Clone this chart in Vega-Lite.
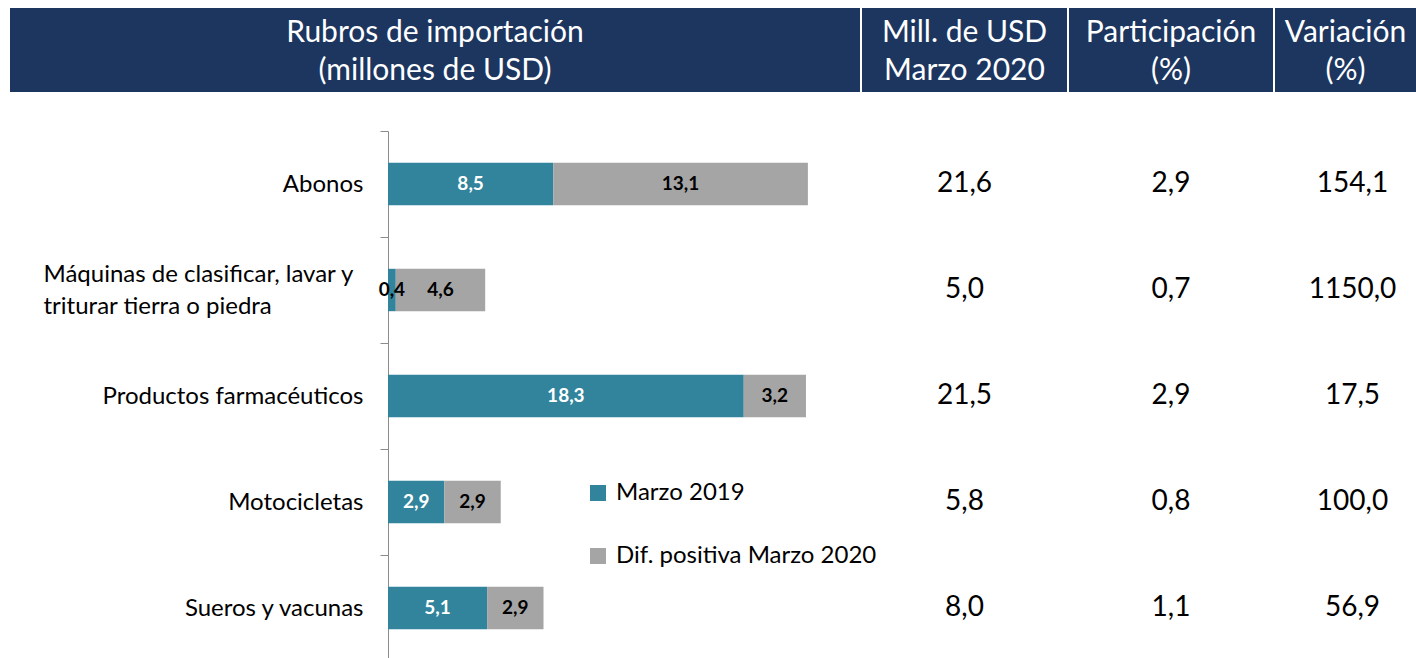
{
  "$schema": "https://vega.github.io/schema/vega-lite/v6.json",
  "padding": {"left": 10, "top": 8, "right": 0, "bottom": 0},
  "background": "white",
  "config": {
    "font": "Lato",
    "view": {"stroke": null},
    "concat": {"spacing": 2}
  },
  "datasets": {
    "segmentos": [
      {"rubro": "Abonos", "serie": "Marzo 2019", "valor": 8.5},
      {"rubro": "Abonos", "serie": "Dif. positiva Marzo 2020", "valor": 13.1},
      {"rubro": "Máquinas de clasificar, lavar y triturar tierra o piedra", "serie": "Marzo 2019", "valor": 0.4},
      {"rubro": "Máquinas de clasificar, lavar y triturar tierra o piedra", "serie": "Dif. positiva Marzo 2020", "valor": 4.6},
      {"rubro": "Productos farmacéuticos", "serie": "Marzo 2019", "valor": 18.3},
      {"rubro": "Productos farmacéuticos", "serie": "Dif. positiva Marzo 2020", "valor": 3.2},
      {"rubro": "Motocicletas", "serie": "Marzo 2019", "valor": 2.9},
      {"rubro": "Motocicletas", "serie": "Dif. positiva Marzo 2020", "valor": 2.9},
      {"rubro": "Sueros y vacunas", "serie": "Marzo 2019", "valor": 5.1},
      {"rubro": "Sueros y vacunas", "serie": "Dif. positiva Marzo 2020", "valor": 2.9}
    ],
    "tabla": [
      {"rubro": "Abonos", "mill": 21.6, "part": 2.9, "var": 154.1},
      {"rubro": "Máquinas de clasificar, lavar y triturar tierra o piedra", "mill": 5.0, "part": 0.7, "var": 1150.0},
      {"rubro": "Productos farmacéuticos", "mill": 21.5, "part": 2.9, "var": 17.5},
      {"rubro": "Motocicletas", "mill": 5.8, "part": 0.8, "var": 100.0},
      {"rubro": "Sueros y vacunas", "mill": 8.0, "part": 1.1, "var": 56.9}
    ],
    "encabezados": [
      {"col": 1, "t": "Rubros de importación\n(millones de USD)"},
      {"col": 2, "t": "Mill. de USD\nMarzo 2020"},
      {"col": 3, "t": "Participación\n(%)"},
      {"col": 4, "t": "Variación\n(%)"}
    ]
  },
  "vconcat": [
    {
      "hconcat": [
        {
          "width": 850, "height": 84,
          "view": {"fill": "#1c3660", "stroke": null},
          "data": {"name": "encabezados"},
          "transform": [{"filter": "datum.col == 1"}],
          "mark": {"type": "text", "color": "white", "fontSize": 30, "lineBreak": "\n", "lineHeight": 38, "baseline": "middle", "dy": -17},
          "encoding": {"text": {"field": "t"}}
        },
        {
          "width": 205, "height": 84,
          "view": {"fill": "#1c3660", "stroke": null},
          "data": {"name": "encabezados"},
          "transform": [{"filter": "datum.col == 2"}],
          "mark": {"type": "text", "color": "white", "fontSize": 30, "lineBreak": "\n", "lineHeight": 38, "baseline": "middle", "dy": -17},
          "encoding": {"text": {"field": "t"}}
        },
        {
          "width": 204, "height": 84,
          "view": {"fill": "#1c3660", "stroke": null},
          "data": {"name": "encabezados"},
          "transform": [{"filter": "datum.col == 3"}],
          "mark": {"type": "text", "color": "white", "fontSize": 30, "lineBreak": "\n", "lineHeight": 38, "baseline": "middle", "dy": -17},
          "encoding": {"text": {"field": "t"}}
        },
        {
          "width": 141, "height": 84,
          "view": {"fill": "#1c3660", "stroke": null},
          "data": {"name": "encabezados"},
          "transform": [{"filter": "datum.col == 4"}],
          "mark": {"type": "text", "color": "white", "fontSize": 30, "lineBreak": "\n", "lineHeight": 38, "baseline": "middle", "dy": -17},
          "encoding": {"text": {"field": "t"}}
        }
      ]
    },
    {
      "bounds": "flush",
      "hconcat": [
        {
          "width": 850, "height": 530,
          "data": {"name": "segmentos"},
          "transform": [
            {"stack": "valor", "groupby": ["rubro"], "sort": [{"field": "serie", "order": "descending"}], "as": ["v0", "v1"]},
            {"calculate": "(datum.v0 + datum.v1) / 2", "as": "vmid"},
            {"calculate": "replace(format(datum.valor, '.1f'), '.', ',')", "as": "etiqueta"}
          ],
          "encoding": {
            "y": {
              "field": "rubro", "type": "nominal", "sort": null,
              "scale": {"type": "band", "paddingInner": 0.6, "paddingOuter": 0.3},
              "axis": {
                "title": null, "offset": -378, "domainColor": "#8c8c8c", "tickColor": "#8c8c8c", "tickSize": 8,
                "tickOffset": -53,
                "labelOffset": {"condition": {"test": "indexof(datum.label, 'lavar y') > 0", "value": 37}, "value": 53},
                "labelAlign": {"condition": {"test": "indexof(datum.label, 'lavar y') > 0", "value": "left"}, "value": "right"},
                "labelPadding": {"condition": {"test": "indexof(datum.label, 'lavar y') > 0", "value": 337}, "value": 17},
                "labelFontSize": 24, "labelColor": "#000",
                "labelLimit": 400, "labelLineHeight": 32,
                "labelExpr": "indexof(datum.label, 'lavar y') > 0 ? ['Máquinas de clasificar, lavar y', 'triturar tierra o piedra'] : datum.label"
              }
            }
          },
          "layer": [
            {
              "mark": {"type": "bar"},
              "encoding": {
                "x": {"field": "v0", "type": "quantitative", "scale": {"domain": [-19.444, 24.28], "nice": false, "zero": false}, "axis": null},
                "x2": {"field": "v1"},
                "color": {
                  "field": "serie", "type": "nominal",
                  "scale": {"domain": ["Marzo 2019", "Dif. positiva Marzo 2020"], "range": ["#31849b", "#a5a5a5"]},
                  "legend": {
                    "title": null, "orient": "none", "legendX": 576, "legendY": 473,
                    "symbolType": "square", "symbolSize": 256, "symbolStrokeWidth": 0,
                    "labelFontSize": 24, "labelColor": "#000", "rowPadding": 39, "labelOffset": 6, "labelLimit": 400
                  }
                }
              }
            },
            {
              "mark": {"type": "text", "fontSize": 19, "fontWeight": "bold", "baseline": "middle"},
              "encoding": {
                "x": {"field": "vmid", "type": "quantitative"},
                "text": {"field": "etiqueta", "type": "nominal"},
                "color": {"condition": {"test": "datum.serie == 'Marzo 2019' && datum.valor > 1", "value": "white"}, "value": "black"}
              }
            }
          ]
        },
        {
          "width": 205, "height": 530,
          "data": {"name": "tabla"},
          "transform": [{"calculate": "replace(format(datum.mill, '.1f'), '.', ',')", "as": "etiqueta"}],
          "mark": {"type": "text", "fontSize": 28, "color": "#000", "baseline": "middle"},
          "encoding": {
            "y": {"field": "rubro", "type": "nominal", "sort": null, "axis": null},
            "text": {"field": "etiqueta", "type": "nominal"}
          }
        },
        {
          "width": 204, "height": 530,
          "data": {"name": "tabla"},
          "transform": [{"calculate": "replace(format(datum.part, '.1f'), '.', ',')", "as": "etiqueta"}],
          "mark": {"type": "text", "fontSize": 28, "color": "#000", "baseline": "middle"},
          "encoding": {
            "y": {"field": "rubro", "type": "nominal", "sort": null, "axis": null},
            "text": {"field": "etiqueta", "type": "nominal"}
          }
        },
        {
          "width": 141, "height": 530,
          "data": {"name": "tabla"},
          "transform": [{"calculate": "replace(format(datum.var, '.1f'), '.', ',')", "as": "etiqueta"}],
          "mark": {"type": "text", "fontSize": 28, "color": "#000", "baseline": "middle", "dx": 7},
          "encoding": {
            "y": {"field": "rubro", "type": "nominal", "sort": null, "axis": null},
            "text": {"field": "etiqueta", "type": "nominal"}
          }
        }
      ]
    }
  ],
  "spacing": 38
}
